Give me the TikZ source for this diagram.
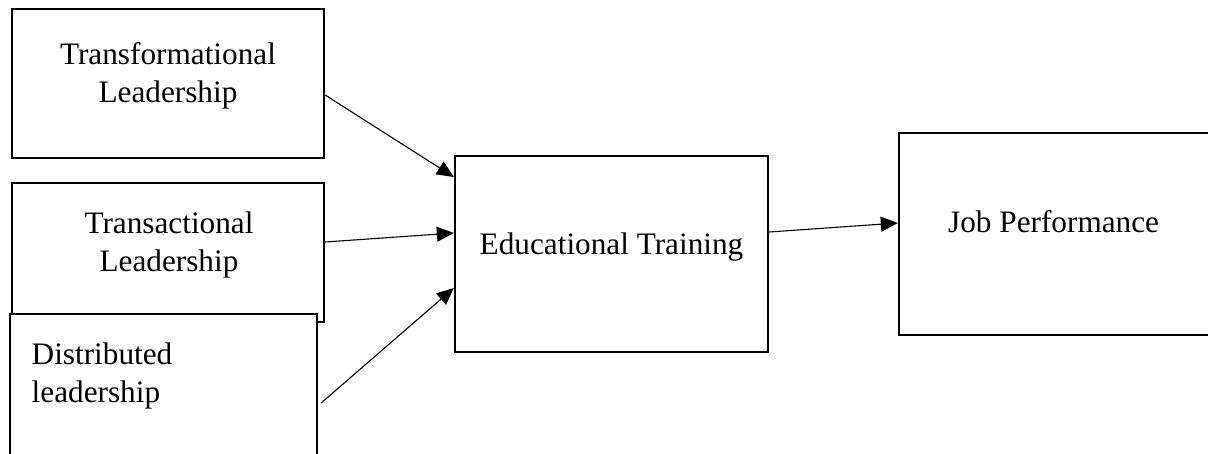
\documentclass[tikz,border=0pt]{standalone}
\usepackage{fontspec}
\setmainfont{Liberation Serif}
\usetikzlibrary{arrows.meta}
\begin{document}
\begin{tikzpicture}[x=1pt,y=-1pt,
  box/.style={draw=black,line width=2.3pt,fill=white,rectangle,inner sep=0pt},
  txt/.style={anchor=base,inner sep=0pt,font=\fontsize{31.25}{38}\selectfont},
  txtl/.style={anchor=base west,inner sep=0pt,font=\fontsize{31.25}{38}\selectfont},
  conn/.style={line width=1.1pt,-{Triangle[length=17pt,width=15pt]}}]
\useasboundingbox (0,0) rectangle (1208,453);
\clip (0,0) rectangle (1208,453);
\fill[white] (0,0) rectangle (1208,453);
% boxes
\node[box,minimum width=312pt,minimum height=149pt] (b1) at (168,83.5) {};
\node[box,minimum width=312pt,minimum height=139pt] (b2) at (168,252.5) {};
\node[box,minimum width=307pt,minimum height=166pt] (b3) at (163.5,397) {};
\node[box,minimum width=313pt,minimum height=196pt] (b4) at (611.5,254) {};
\node[box,minimum width=381pt,minimum height=202pt] (b5) at (1089.5,234) {};
% texts
\node[txt] (t1a) at (168,64) {Transformational};
\node[txt] (t1b) at (168,102) {Leadership};
\node[txt] (t2a) at (169,233) {Transactional};
\node[txt] (t2b) at (169,271.5) {Leadership};
\node[txtl] (t3a) at (31.5,364) {Distributed};
\node[txtl] (t3b) at (31.5,402) {leadership};
\node[txt] (t4) at (611.5,254) {Educational Training};
\node[txtl] (t5) at (948,232.5) {Job Performance};
% connectors
\draw[conn] ([yshift=-11.5pt]b1.east) -- ([yshift=77pt]b4.west);
\draw[conn] ([yshift=10.5pt]b2.east) -- ([yshift=21pt]b4.west);
\draw[conn] ([xshift=3pt,yshift=-6pt]b3.east) -- ([yshift=-34pt]b4.west);
\draw[conn] ([yshift=22pt]b4.east) -- ([yshift=11pt]b5.west);
\end{tikzpicture}
\end{document}
